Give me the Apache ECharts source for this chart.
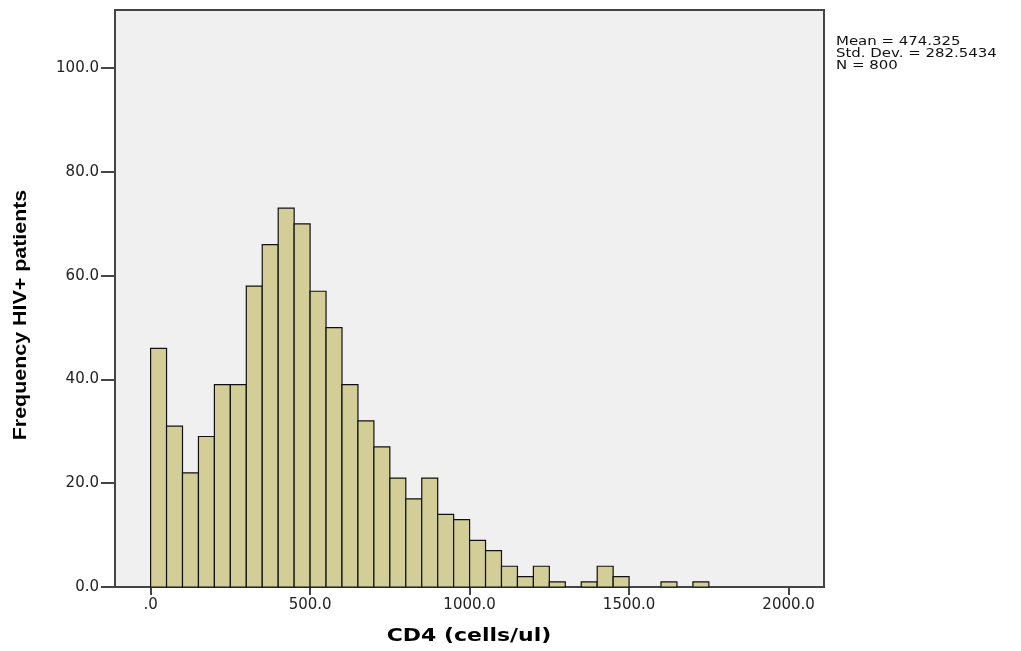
<!DOCTYPE html>
<html><head><meta charset="utf-8">
<script src="https://cdn.jsdelivr.net/npm/echarts@6/dist/echarts.min.js"></script>
<style>html,body{margin:0;padding:0;background:#fff}#c{width:1021px;height:651px}</style>
</head><body><div id="c"></div>
<script>
// Histogram bins (lower edges, cells/ul) and frequencies
const binStarts = [0,50,100,150,200,250,300,350,400,450,500,550,600,650,700,750,800,850,900,950,1000,1050,1100,1150,1200,1250,1300,1350,1400,1450,1500,1550,1600,1650,1700];
const binWidth = 50;
const counts = [46,31,22,29,39,39,58,66,73,70,57,50,39,32,27,21,17,21,14,13,9,7,4,2,4,1,0,1,4,2,0,0,1,0,1];
const xTicks = [0,500,1000,1500,2000];
const xTickLabels = ['.0','500.0','1000.0','1500.0','2000.0'];
const yTicks = [0,20,40,60,80,100];
const yTickLabels = ['0.0','20.0','40.0','60.0','80.0','100.0'];
const xTitle = 'CD4 (cells/ul)';
const yTitle = 'Frequency HIV+ patients';
const statsLines = ['Mean = 474.325','Std. Dev. = 282.5434','N = 800'];

const data = binStarts.map((s, i) => [s, s + binWidth, counts[i]]).filter(d => d[2] > 0);

const chart = echarts.init(document.getElementById('c'), null, {renderer: 'canvas'});
chart.setOption({
  animation: false,
  backgroundColor: '#ffffff',
  grid: {left: 115, right: 197, top: 10, bottom: 64, show: true,
         backgroundColor: '#F0F0F0', borderColor: '#444444', borderWidth: 2},
  xAxis: {
    type: 'value', min: -111.6, max: 2111,
    axisLine: {show: false, onZero: false},
    splitLine: {show: false},
    axisTick: {show: true, length: 8, customValues: xTicks, lineStyle: {color: '#444', width: 2}},
    axisLabel: {customValues: xTicks, margin: 11, fontFamily: 'DejaVu Sans', fontSize: 15, color: '#222',
      formatter: v => xTickLabels[xTicks.indexOf(v)]}
  },
  yAxis: {
    type: 'value', min: 0, max: 111.2,
    axisLine: {show: false, onZero: false},
    splitLine: {show: false},
    axisTick: {show: true, length: 14, customValues: yTicks, lineStyle: {color: '#444', width: 2}},
    axisLabel: {customValues: yTicks, margin: 16, fontFamily: 'DejaVu Sans', fontSize: 15, color: '#222',
      formatter: v => yTickLabels[yTicks.indexOf(v)]}
  },
  graphic: [
    {type: 'text', x: 21, y: 315, rotation: Math.PI / 2, scaleX: 1.19,
     style: {text: yTitle, fontFamily: 'Liberation Sans', fontWeight: 'bold', fontSize: 18, fill: '#000',
             textAlign: 'center', textVerticalAlign: 'middle'}},
    {type: 'text', x: 469, y: 636, scaleX: 1.22,
     style: {text: xTitle, fontFamily: 'DejaVu Sans', fontWeight: 'bold', fontSize: 18, fill: '#000',
             textAlign: 'center', textVerticalAlign: 'middle'}},
    {type: 'text', x: 836, y: 36, scaleX: 1.15,
     style: {text: statsLines.join('\n'), fontFamily: 'DejaVu Sans', fontSize: 13, lineHeight: 12, fill: '#111',
             textAlign: 'left', textVerticalAlign: 'top'}}
  ],
  series: [{
    type: 'custom',
    data: data,
    encode: {x: [0, 1], y: 2},
    renderItem: function (params, api) {
      const p0 = api.coord([api.value(0), 0]);
      const p1 = api.coord([api.value(1), api.value(2)]);
      return {type: 'rect',
        shape: {x: p0[0], y: p1[1], width: p1[0] - p0[0], height: p0[1] - p1[1]},
        style: {fill: '#D3CE97', stroke: '#111', lineWidth: 1.2}};
    }
  }]
});
</script></body></html>
